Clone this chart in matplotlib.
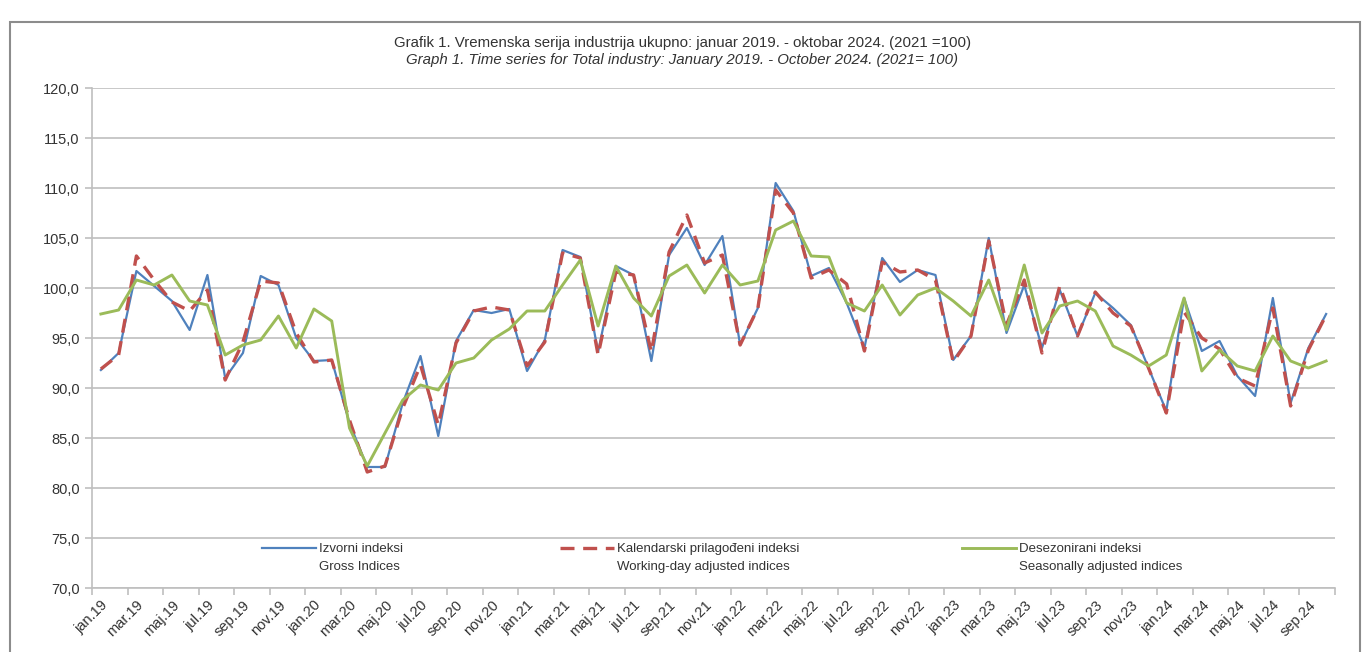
import matplotlib
matplotlib.use("Agg")
import matplotlib.pyplot as plt
from matplotlib.lines import Line2D
from matplotlib.patches import Rectangle
import numpy as np

plt.rcParams['font.family'] = ['Liberation Sans', 'DejaVu Sans']

month_names = ['jan', 'feb', 'mar', 'apr', 'maj', 'jun', 'jul', 'avg', 'sep', 'okt', 'nov', 'dec']
years = ['19', '20', '21', '22', '23', '24']
categories = [f"{m}.{y}" for y in years for m in month_names][:70]

gross = [91.8, 93.5, 101.7, 100.2, 98.7, 95.8, 101.3, 91.0, 93.5, 101.2,
         100.3, 95.0, 92.7, 92.8, 86.5, 82.1, 82.1, 88.5, 93.2, 85.2,
         94.7, 97.8, 97.5, 97.9, 91.7, 94.8, 103.8, 103.1, 93.6, 102.2,
         101.3, 92.7, 103.3, 106.0, 102.3, 105.2, 94.3, 98.0, 110.5, 107.7,
         101.2, 102.0, 98.5, 94.0, 103.0, 100.6, 101.8, 101.3, 92.8, 95.2,
         105.0, 95.5, 100.3, 94.0, 99.8, 95.2, 99.5, 98.0, 96.3, 92.0,
         87.7, 99.0, 93.7, 94.7, 91.2, 89.2, 99.0, 88.5, 94.0, 97.4]

working_day = [91.9, 93.3, 103.2, 100.8, 98.6, 97.7, 99.8, 90.8, 94.6, 100.7,
               100.5, 95.5, 92.6, 92.8, 86.8, 81.6, 82.2, 88.0, 92.3, 86.3,
               94.5, 97.7, 98.1, 97.8, 92.2, 94.6, 103.5, 103.0, 93.3, 101.6,
               101.3, 93.6, 103.6, 107.3, 102.5, 103.3, 94.3, 98.0, 109.8, 107.5,
               101.0, 101.8, 100.4, 93.7, 102.6, 101.6, 101.8, 100.8, 92.6, 95.2,
               104.7, 96.3, 100.8, 93.5, 100.2, 95.2, 99.6, 97.5, 96.2, 92.0,
               87.5, 97.6, 95.0, 93.9, 91.0, 90.2, 98.0, 88.2, 93.8, 97.3]

seasonal = [97.4, 97.8, 100.8, 100.3, 101.3, 98.7, 98.3, 93.3, 94.3, 94.8,
            97.2, 94.0, 97.9, 96.7, 86.0, 82.2, 85.5, 88.8, 90.3, 89.8,
            92.5, 93.0, 94.8, 95.9, 97.7, 97.7, 100.3, 102.8, 96.2, 102.2,
            99.0, 97.2, 101.2, 102.3, 99.5, 102.3, 100.3, 100.7, 105.8, 106.7,
            103.2, 103.1, 98.5, 97.7, 100.3, 97.3, 99.3, 100.0, 98.7, 97.2,
            100.8, 95.8, 102.3, 95.5, 98.2, 98.7, 97.7, 94.2, 93.3, 92.2,
            93.3, 99.0, 91.7, 93.8, 92.2, 91.7, 95.2, 92.7, 92.0, 92.7]

series_labels = [("Izvorni indeksi", "Gross Indices"),
                 ("Kalendarski prilagođeni indeksi", "Working-day adjusted indices"),
                 ("Desezonirani indeksi", "Seasonally adjusted indices")]

title_sr = "Grafik 1. Vremenska serija industrija ukupno: januar 2019. - oktobar 2024. (2021 =100)"
title_en = "Graph 1. Time series for Total industry: January 2019. - October 2024. (2021= 100)"

W, H = 1365, 652
fig = plt.figure(figsize=(W / 100, H / 100), dpi=100)
fig.patch.set_facecolor('white')

# outer chart frame
fig.add_artist(Rectangle((10 / W, -0.05), (1360 - 10) / W, 1.05 - 22 / H,
                         transform=fig.transFigure, fill=False,
                         edgecolor='#8c8c8c', linewidth=1.5))

ax = fig.add_axes([92 / W, 1 - 588 / H, (1335 - 92) / W, (588 - 88) / H])
x = np.arange(len(categories))

c_blue = '#4F81BD'
c_red = '#C0504D'
c_green = '#9BBB59'

l1, = ax.plot(x, gross, color=c_blue, linewidth=1.6, zorder=3)
l2, = ax.plot(x, working_day, color=c_red, linewidth=2.4, dashes=(4.2, 2.6), zorder=4)
l3, = ax.plot(x, seasonal, color=c_green, linewidth=2.1, zorder=5)

ax.set_xlim(-0.5, len(categories) - 0.5)
ax.set_ylim(70, 120)
ax.set_yticks(np.arange(70, 121, 5))
ax.set_yticklabels([f"{v:.1f}".replace('.', ',') for v in np.arange(70, 121, 5)],
                   fontsize=10.5, color='#333333')
ax.yaxis.grid(True, color='#bfbfbf', linewidth=1.2)
ax.set_axisbelow(True)

ax.set_xticks(np.arange(-0.5, len(categories), 2))
ax.set_xticklabels([])
ax.set_xticks(x[::2], minor=True)
ax.set_xticklabels(categories[::2], minor=True, rotation=45, ha='right',
                   rotation_mode='anchor', fontsize=10.5, color='#333333')
ax.tick_params(axis='x', which='major', length=5, color='#bfbfbf', width=1.2)
ax.tick_params(axis='x', which='minor', length=0, pad=7)
ax.tick_params(axis='y', length=5, color='#bfbfbf', width=1.2, pad=4)

for s in ['top', 'right']:
    ax.spines[s].set_visible(False)
for s in ['left', 'bottom']:
    ax.spines[s].set_color('#bfbfbf')
    ax.spines[s].set_linewidth(1.2)

# legends (three entries placed like the original)
blank = Line2D([], [], color='none')
leg_pos = [262, 560, 962]
for line, (lab1, lab2), px in zip([l1, l2, l3], series_labels, leg_pos):
    leg = fig.legend([line, blank], [lab1, lab2], loc='upper left',
                     bbox_to_anchor=(px / W, 1 - 543 / H), bbox_transform=fig.transFigure,
                     frameon=False, fontsize=9.5, handlelength=4.1, handletextpad=0.25,
                     borderpad=0, borderaxespad=0, labelspacing=0.45)
    for t in leg.get_texts():
        t.set_color('#333333')

fig.text(0.5, 1 - 43 / H, title_sr, ha='center', va='center', fontsize=10.8, color='#333333')
fig.text(0.5, 1 - 60 / H, title_en, ha='center', va='center', fontsize=10.8,
         style='italic', color='#333333')

fig.savefig('out.png', dpi=100, facecolor='white')
